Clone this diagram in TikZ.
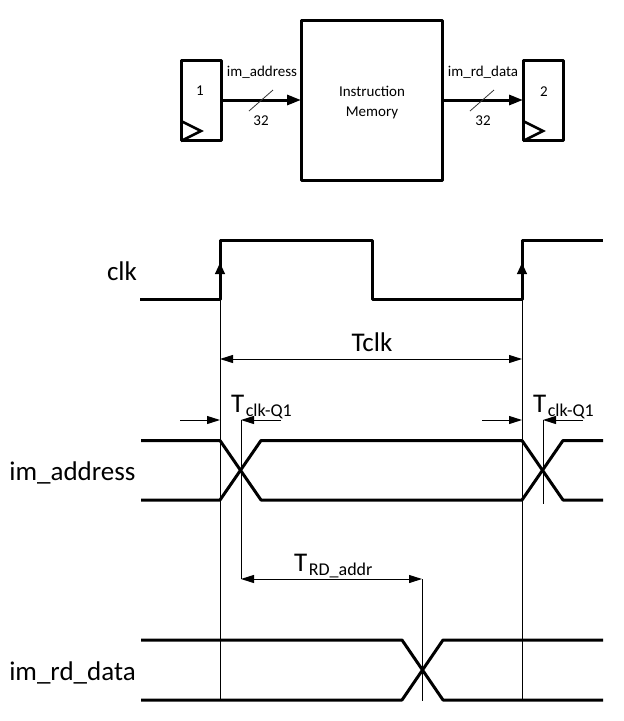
\documentclass[tikz,border=0pt]{standalone}
\usepackage{fontspec}
\setmainfont{Carlito}
\usetikzlibrary{arrows.meta}
\tikzset{
  x=1pt,y=-1pt,
  box/.style={draw,line width=3pt,line join=round},
  wire/.style={line width=3pt,line join=round},
  bus/.style={line width=3pt,-{Triangle[length=14pt,width=10pt]}},
  thin line/.style={line width=1pt},
  tick/.style={line width=0.8pt,draw=black!80},
  clkarrow/.style={line width=1pt,-{Triangle[length=11pt,width=10pt]}},
  dim/.style={line width=1pt,-{Triangle[length=13pt,width=8pt]}},
  dimboth/.style={line width=1pt,{Triangle[length=13pt,width=8pt]}-{Triangle[length=13pt,width=8pt]}},
  small/.style={font=\fontsize{15}{17}\selectfont,inner sep=0pt,anchor=base},
  big/.style={font=\fontsize{27}{30}\selectfont,inner sep=0pt,anchor=base},
}
\newcommand{\tsub}[1]{T\kern1.5pt{\fontsize{18}{20}\selectfont\raisebox{-4.5pt}{#1}}}
\begin{document}
\begin{tikzpicture}
\useasboundingbox (0,0) rectangle (624,721);
% register and memory blocks
\draw[box] (181,60.5) rectangle (221,140.5);
\draw[box] (301.5,20.5) rectangle (442,180.5);
\draw[box] (523,60.5) rectangle (563,140.5);
\coordinate (r1o) at (221,100);
\coordinate (mi) at (301,100);
\coordinate (mo) at (442,100);
\coordinate (r2i) at (523,100);
\draw[line width=2.6pt,line join=miter] (181,121) -- (201,131) -- (181,141);
\draw[line width=2.6pt,line join=miter] (523,121) -- (543,131) -- (523,141);
\draw[bus] (r1o) -- (mi);
\draw[bus] (mo) -- (r2i);
\draw[tick] (249,111) -- (273,90);
\draw[tick] (470,111) -- (494,90);
\node[small] (n1) at (200,95) {1};
\node[small] (n2) at (544,96) {2};
\node[small] (ima) at (262,76) {im\_address};
\node[small] (imd) at (483,76) {im\_rd\_data};
\node[small] (w1) at (261,125) {32};
\node[small] (w2) at (483,125) {32};
\node[small] (im1) at (372,96) {Instruction};
\node[small] (im2) at (372,116) {Memory};
% waveforms
\draw[wire] (140,299.5) -- (220,299.5) -- (220,240.5) -- (372,240.5) -- (372,299.5) -- (522,299.5) -- (522,240.5) -- (603,240.5);
\draw[wire] (141,440.5) -- (220,440.5) -- (261,500) -- (522,500) -- (563,440.5) -- (603,440.5);
\draw[wire] (141,500) -- (220,500) -- (261,440.5) -- (522,440.5) -- (563,500) -- (603,500);
\draw[wire] (141,640) -- (402,640) -- (443,700) -- (603,700);
\draw[wire] (141,700) -- (402,700) -- (443,640) -- (603,640);
% guide lines
\draw[thin line] (220,299) -- (220,700);
\draw[thin line] (522,299) -- (522,700);
\draw[thin line] (241,420) -- (241,579);
\draw[thin line] (543,420) -- (543,504);
\draw[thin line] (422,579) -- (422,701);
% clock arrows
\coordinate (c1) at (220,280);
\coordinate (c1t) at (220,263);
\coordinate (c2) at (522,280);
\coordinate (c2t) at (522,263);
\draw[clkarrow] (c1) -- (c1t);
\draw[clkarrow] (c2) -- (c2t);
% dimensions
\coordinate (a) at (220,359);
\coordinate (b) at (522,359);
\draw[dimboth] (a) -- (b);
\draw[dim] (180,420) -- (220,420);
\draw[dim] (281,420) -- (241,420);
\draw[dim] (482,420) -- (522,420);
\draw[dim] (583,420) -- (543,420);
\draw[dimboth] (241,579) -- (422,579);
% labels
\node[big] (lclk) at (122,280) {clk};
\node[big] (laddr) at (72.5,480) {im\_address};
\node[big] (ldata) at (72.5,680) {im\_rd\_data};
\node[big] (ltclk) at (372,351) {Tclk};
\node[big,anchor=base west] (t1) at (231,412) {\tsub{clk-Q1}};
\node[big,anchor=base west] (t2) at (533,412) {\tsub{clk-Q1}};
\node[big,anchor=base west] (t3) at (294,571) {\tsub{RD\_addr}};
\end{tikzpicture}
\end{document}
